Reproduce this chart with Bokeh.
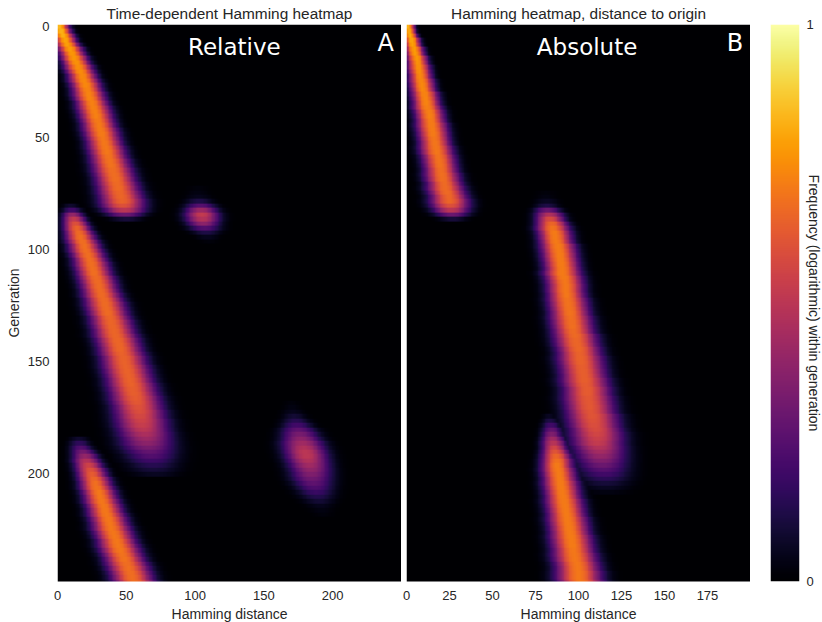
from bokeh.plotting import figure
from bokeh.layouts import row
from bokeh.models import Label, FixedTicker, Range1d, LinearColorMapper
from bokeh.palettes import Inferno256
from bokeh.embed import file_html
from bokeh.resources import INLINE
import numpy as np

# each band: first generation, then one centre / spread / peak per 2 generations
A1_start = 0
A1_c = [1,2.5,4,5.5,7,9,10.5,12,13.5,15,16.5,18,19,20.5,21.5,22.5,23.5,25,26,27,28,29,30,31,32,33,34,35,36,37,38,39,40,41,42,43,44,45,46,47,47.5,48.5,49,50]
A1_w = [6,6,6.5,6.5,7,7.5,7.5,8,8,8.5,8.5,8.5,9,9,9,9.5,9.5,9.5,10,10,10,10,10,10.5,10.5,10.5,10.5,11,11,11,11.5,11.5,12,12,12,12.5,12.5,13,13,13.5,13.5,13,12,10]
A1_p = [.84,.83,.82,.80,.79,.78,.77,.77,.76,.75,.75,.74,.74,.74,.73,.73,.73,.72,.72,.72,.72,.71,.71,.71,.71,.70,.70,.70,.70,.69,.69,.69,.68,.68,.68,.67,.67,.66,.66,.65,.60,.50,.30,.10]

A2_start = 80
A2_c = [9.5,10.5,11,12,13,14,15.5,16.5,18,19.5,20.5,22,23.5,24.5,25.5,26.5,28,29,30,31,32,33.5,34.5,35.5,36.5,38,39,40,41,42,43.5,44.5,45.5,46.5,48,48.5,49.5,50.5,51.5,52.5,53.5,54.5,55.5,56.5,57.5,58.5,59.5,60,61,61.5,62.5,63.5,64.5,65,66,67,68,68.5,69.5,70,71]
A2_w = [5,6,6.5,7,7.5,8,8.5,9,9.5,9.5,10,10,10,10.5,10.5,10.5,11,11,11,11,11.5,11.5,12,12,12,12,12.5,12.5,12.5,13,13,13,13,13.5,13.5,13.5,14,14,14,14,14.5,14.5,14.5,15,15,15,15.5,15.5,16,16,16,16.5,16.5,17,17,17,16.5,16.5,16,16,15]
A2_p = [.08,.2,.4,.52,.6,.65,.67,.68,.68,.68,.68,.68,.68,.68,.68,.68,.67,.67,.67,.67,.67,.67,.67,.67,.67,.66,.66,.66,.66,.66,.66,.66,.66,.65,.65,.65,.65,.65,.65,.65,.65,.64,.64,.63,.62,.60,.59,.57,.55,.53,.50,.46,.42,.38,.33,.28,.24,.19,.14,.10,.06]

A3_start = 184
A3_c = [15.5,16,17,18.5,20,21,22.5,24,25,26.5,27.5,28.5,30,31,32,33.5,34.5,35.5,37,38,39,40.5,41.5,43,44,45.5,47,48.5,50,51.5,53,54,55.5]
A3_w = [6,6.5,7,7.5,8,8.5,8.5,9,9,9.5,9.5,10,10,10,10.5,10.5,10.5,11,11,11,11.5,11.5,11.5,11.5,12,12,12,12,12.5,12.5,12.5,12.5,12.5]
A3_p = [.08,.16,.24,.32,.4,.48,.55,.6,.63,.66,.68,.69,.7,.7,.7,.7,.7,.7,.7,.7,.7,.7,.7,.7,.7,.7,.69,.69,.68,.68,.68,.68,.68]

A4_start = 72
A4_c = [102,102,102.5,103,104,104.5,105,105.5,106,107,108,109,110]
A4_w = [7,7.5,8,8.5,9.5,10,10.5,10.5,10,10,9,7.5,6]
A4_p = [.02,.03,.05,.12,.25,.42,.52,.48,.38,.24,.12,.05,.02]

A5_start = 168
A5_c = [170,170.5,171,172,173,174,175,176,177,178,179,180,181,182,183,184,184.5,185,186,187,188,189,190,191,192,193]
A5_w = [5,6,7,7.5,8.5,9.5,11,11.5,12,13,13,13,13,13,13,13,13,13,12.5,12,11.5,11,10,9,8,7]
A5_p = [.02,.03,.05,.09,.14,.2,.27,.33,.38,.43,.47,.5,.5,.47,.43,.39,.35,.31,.27,.23,.18,.13,.09,.05,.03,.02]

B1_start = 0
B1_c = [1,1.5,2,3,3.5,4.5,5,6,6.5,7,7.5,8,8.5,9,9.5,10.5,11,11.5,12,13,13.5,14,14.5,15,15.5,16,16.5,17,17.5,18.5,19,19.5,20,20.5,21,22,22.5,23.5,24.5,25,25.5,26,26.5,27]
B1_w = [3,3,3.5,4,4,4.5,4.5,5,5,5.5,5.5,5.5,6,6,6,6.5,6.5,6.5,7,7,7,7,7.5,7.5,7.5,7.5,7.5,8,8,8,8,8,8,8.5,8.5,8.5,9,9,9,9.5,9.5,9,8.5,7]
B1_p = [.84,.83,.82,.80,.79,.78,.78,.77,.76,.75,.75,.74,.74,.74,.74,.73,.73,.73,.72,.72,.72,.71,.71,.71,.71,.70,.70,.70,.70,.69,.69,.69,.68,.68,.68,.67,.67,.67,.66,.66,.60,.50,.30,.10]

B2_start = 74
B2_c = [81,81,81.5,81.5,82,83,83.5,84.5,85,86,86.5,87,88,88.5,89,89.5,90,90.5,90.5,91.5,92,92.5,92.5,93,93.5,94,94.5,95,95.5,96,96.5,97,98,98.5,99,100,100.5,101,101.5,102,102.5,103,103.5,104,105,105,105.5,106,106.5,107,108,108.5,109,110,110.5,111,111,112,112.5,113,113.5,114,114.5,115,115.5,115.5,116,116.5]
B2_w = [5.5,5.5,6,6,6.5,7,7,7.5,8,8,8,8,8.5,8.5,8.5,8.5,8.5,8.5,9,9,9,9,9,9,9.5,9.5,9.5,9.5,10,10,10,10,10.5,10.5,10.5,10.5,10.5,11,11,11,11,11,11.5,11.5,11.5,11.5,12,12,12,12,12.5,12.5,12.5,12.5,13,13,13,13,13,13,13,13,13,13,13,13,12.5,12]
B2_p = [.02,.03,.06,.12,.3,.47,.58,.66,.69,.71,.71,.71,.71,.71,.71,.71,.71,.71,.71,.71,.70,.70,.70,.70,.69,.69,.69,.69,.68,.68,.68,.67,.67,.66,.66,.66,.65,.65,.65,.64,.64,.64,.64,.63,.63,.63,.62,.62,.62,.61,.61,.60,.59,.58,.56,.54,.52,.48,.44,.40,.35,.30,.25,.20,.15,.10,.06,.03]

B3_start = 174
B3_c = [83,83.5,84,84.5,84.5,85,85.5,86,86.5,87,87.5,87.5,88,88.5,89,89.5,90,90.5,91,91.5,92,92.5,93,93.5,94,94.5,95,95.5,96,96.5,97,97.5,98,99,99.5,100,100,101]
B3_w = [3.5,4,4.5,5,5,5.5,6,6,6.5,7,7.5,7.5,8,8,8,8.5,8.5,8.5,8.5,9,9,9,9,9.5,9.5,9.5,9.5,10,10,10,10,10.5,10.5,10.5,10.5,11,11,11]
B3_p = [.06,.12,.2,.28,.35,.43,.49,.56,.61,.66,.69,.71,.71,.71,.71,.71,.71,.71,.71,.71,.71,.71,.71,.71,.71,.71,.71,.71,.71,.71,.70,.70,.70,.70,.70,.70,.70,.70]

x_ticks_A = [0, 50, 100, 150, 200]
x_ticks_B = [0, 25, 50, 75, 100, 125, 150, 175]
y_ticks = [0, 50, 100, 150, 200]

TXT = "#262626"
FONT = "Liberation Sans"
STEP = 2
mapper = LinearColorMapper(palette=Inferno256, low=0, high=1)


def matrix(n_cols, bands):
    n_rows = 125
    m = np.zeros((n_rows, n_cols))
    d = np.arange(n_cols) + 0.5
    for start, cs, ws, ps in bands:
        for i, (c, w, pk) in enumerate(zip(cs, ws, ps)):
            r = (start + STEP * i) // STEP
            if r < n_rows:
                m[r] = np.maximum(m[r], pk * np.exp(-(np.abs(d - c) / (w * 1.14)) ** 2.25))
    return m


def panel(title, n_cols, ticks, bands, big, letter, left, big_x, letter_x, with_y):
    p = figure(frame_width=344, frame_height=557, x_range=Range1d(0, n_cols), y_range=Range1d(248.3, -0.7),
               output_backend="svg", toolbar_location=None, min_border_left=left,
               min_border_right=0, min_border_top=23, min_border_bottom=34)
    p.image(image=[matrix(n_cols, bands)], x=0, y=-0.7, dw=n_cols, dh=250, color_mapper=mapper)
    p.grid.visible = False
    p.outline_line_color = None
    p.title.text = title
    p.title.align = "center"
    p.title.text_font = FONT
    p.title.text_font_size = "15.4px"
    p.title.text_font_style = "normal"
    p.title.text_color = TXT
    p.title.standoff = 5
    p.xaxis.ticker = FixedTicker(ticks=ticks)
    p.yaxis.ticker = FixedTicker(ticks=y_ticks)
    p.xaxis.axis_label = "Hamming distance"
    for ax in p.xaxis + p.yaxis:
        ax.axis_line_color = None
        ax.major_tick_line_color = None
        ax.minor_tick_line_color = None
        ax.major_tick_out = 0
        ax.major_tick_in = 0
        ax.minor_tick_out = 0
        ax.minor_tick_in = 0
        ax.major_label_text_font = FONT
        ax.major_label_text_font_size = "13px"
        ax.major_label_text_color = TXT
        ax.axis_label_text_font = FONT
        ax.axis_label_text_font_size = "14px"
        ax.axis_label_text_font_style = "normal"
        ax.axis_label_text_color = TXT
        ax.major_label_standoff = 8
        ax.axis_label_standoff = 3
    p.xaxis.major_label_standoff = 9
    if with_y:
        p.yaxis.axis_label = "Generation"
        p.yaxis.axis_label_standoff = 3
    else:
        p.yaxis.visible = False
    p.add_layout(Label(x=big_x, y=9.5, text=big, text_color="white", text_font="DejaVu Sans",
                       text_font_size="23px", text_align="center", text_baseline="middle"))
    p.add_layout(Label(x=letter_x, y=7.5, text=letter, text_color="white", text_font="DejaVu Sans",
                       text_font_size="24px", text_align="center", text_baseline="middle"))
    return p


pa = panel("Time-dependent Hamming heatmap", 250, x_ticks_A,
           [(A1_start, A1_c, A1_w, A1_p), (A2_start, A2_c, A2_w, A2_p), (A3_start, A3_c, A3_w, A3_p),
            (A4_start, A4_c, A4_w, A4_p), (A5_start, A5_c, A5_w, A5_p)],
           "Relative", "A", 49, 128.5, 238.5, True)
pa.margin = (0, 0, 0, 2)
pb = panel("Hamming heatmap, distance to origin", 200, x_ticks_B,
           [(B1_start, B1_c, B1_w, B1_p), (B2_start, B2_c, B2_w, B2_p), (B3_start, B3_c, B3_w, B3_p)],
           "Absolute", "B", 5, 105, 191, False)

cb = figure(frame_width=29, frame_height=557, x_range=Range1d(0, 1), y_range=Range1d(0, 1),
            output_backend="svg", toolbar_location=None, min_border_left=20, min_border_right=22,
            min_border_top=23, min_border_bottom=34)
cb.image(image=[np.linspace(0, 1, 256).reshape(256, 1)], x=0, y=0, dw=1, dh=1, color_mapper=mapper)
cb.grid.visible = False
cb.outline_line_color = None
cb.xaxis.visible = False
cb.yaxis.visible = False
ax = type(cb.yaxis[0])(ticker=FixedTicker(ticks=[0, 1]), axis_label="Frequency (logarithmic) within generation")
ax.axis_line_color = None
ax.major_tick_out = 0
ax.major_tick_in = 0
ax.minor_tick_out = 0
ax.minor_tick_in = 0
ax.major_label_text_font = FONT
ax.major_label_text_font_size = "13px"
ax.major_label_text_color = TXT
ax.major_label_standoff = 7
ax.axis_label_text_font = FONT
ax.axis_label_text_font_size = "14px"
ax.axis_label_text_font_style = "normal"
ax.axis_label_text_color = TXT
ax.axis_label_standoff = -11
cb.add_layout(ax, "right")

layout = row(pa, pb, cb, spacing=0)
open("out.html", "w").write(file_html(layout, INLINE))
